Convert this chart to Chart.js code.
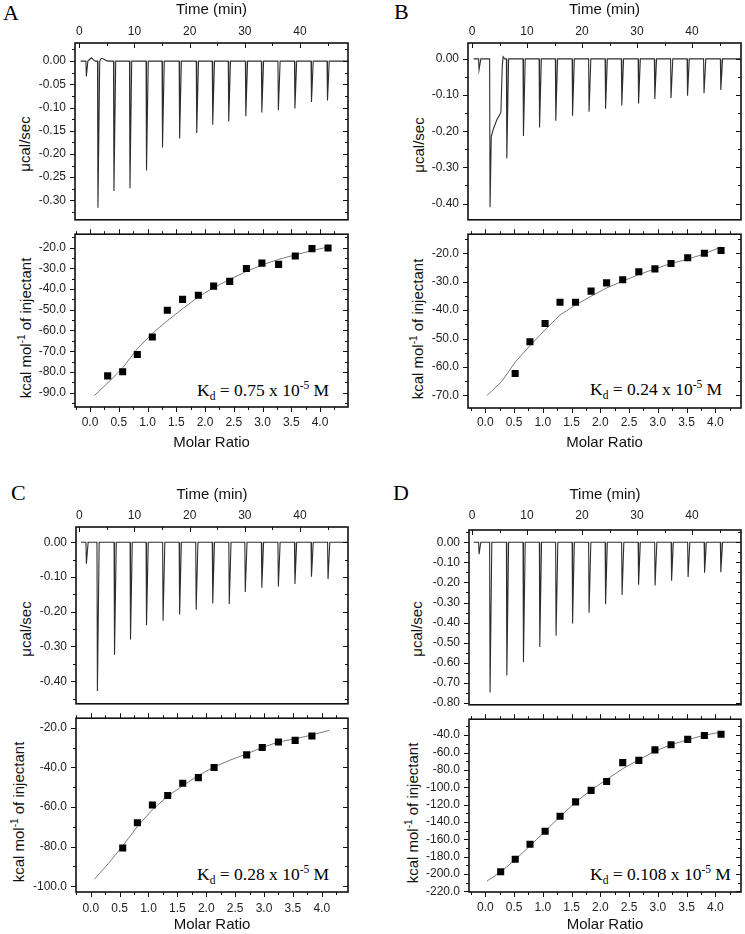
<!DOCTYPE html>
<html><head><meta charset="utf-8">
<script src="https://cdn.jsdelivr.net/npm/chart.js@4.4.1/dist/chart.umd.min.js"></script>
<style>
html,body{margin:0;padding:0;background:#fff;overflow:hidden;}
#page{position:relative;width:745px;height:934px;overflow:hidden;}
canvas{position:absolute;}
.lbl{position:absolute;white-space:nowrap;}
.letter{font-family:"Liberation Serif","Times New Roman",serif;font-size:22px;line-height:22px;color:#000;}
.ytitle{font-family:"Liberation Sans",Arial,sans-serif;font-size:15px;line-height:18px;color:#111;transform:translate(-50%,-50%) rotate(-90deg);}
.ytitle sup{font-size:10px;line-height:0;position:relative;vertical-align:baseline;top:-6px;}
.kd{font-family:"Liberation Serif","Times New Roman",serif;font-size:17.5px;line-height:20px;color:#000;}
.kd sub,.kd sup{font-size:11.5px;line-height:0;position:relative;vertical-align:baseline;}
.kd sub{top:4px;} .kd sup{top:-7px;}
</style></head>
<body><div id="page">
<div class="lbl letter" style="left:3px;top:1.6px">A</div>
<div class="lbl letter" style="left:394px;top:0.6px">B</div>
<div class="lbl letter" style="left:11px;top:481.6px">C</div>
<div class="lbl letter" style="left:393px;top:481.6px">D</div>

<div class="lbl ytitle" style="left:24.5px;top:143.5px">μcal/sec</div>
<div class="lbl ytitle" style="left:25.5px;top:328px">kcal mol<sup>-1</sup> of injectant</div>
<div class="lbl ytitle" style="left:418.5px;top:144.5px">μcal/sec</div>
<div class="lbl ytitle" style="left:418px;top:328.5px">kcal mol<sup>-1</sup> of injectant</div>
<div class="lbl ytitle" style="left:26px;top:628.5px">μcal/sec</div>
<div class="lbl ytitle" style="left:18.5px;top:811.5px">kcal mol<sup>-1</sup> of injectant</div>
<div class="lbl ytitle" style="left:417px;top:629px">μcal/sec</div>
<div class="lbl ytitle" style="left:412.5px;top:812.5px">kcal mol<sup>-1</sup> of injectant</div>

<div class="lbl kd" style="left:197px;top:380px">K<sub>d</sub> = 0.75 x 10<sup>-5</sup> M</div>
<div class="lbl kd" style="left:590px;top:379px">K<sub>d</sub> = 0.24 x 10<sup>-5</sup> M</div>
<div class="lbl kd" style="left:197px;top:864px">K<sub>d</sub> = 0.28 x 10<sup>-5</sup> M</div>
<div class="lbl kd" style="left:590px;top:864px">K<sub>d</sub> = 0.108 x 10<sup>-5</sup> M</div>
</div>
<script>
// ===== DATA =====
// Raw thermograms: injection times (min) and peak heat rates (µcal/sec)
const injTimeA = [1.2, 3.3, 6.2, 9.1, 12.1, 15.0, 18.1, 21.2, 24.1, 27.0, 30.1, 33.0, 36.0, 39.0, 42.0, 44.9];
const peakA    = [-0.033, -0.316, -0.280, -0.274, -0.236, -0.186, -0.167, -0.155, -0.137, -0.130, -0.119, -0.111, -0.106, -0.102, -0.088, -0.085];
const injTimeB = [1.2, 3.2, 6.25, 9.27, 12.2, 15.15, 18.2, 21.2, 24.2, 27.15, 30.2, 33.15, 36.1, 39.1, 42.1, 45.15];
const peakB    = [-0.030, -0.410, -0.275, -0.213, -0.190, -0.171, -0.157, -0.146, -0.138, -0.129, -0.123, -0.111, -0.108, -0.102, -0.095, -0.086];
const injTimeC = [1.2, 3.2, 6.3, 9.2, 12.1, 15.1, 18.1, 21.1, 24.1, 27.1, 30.0, 33.0, 36.0, 39.0, 42.0, 45.0];
const peakC    = [-0.062, -0.428, -0.324, -0.280, -0.239, -0.226, -0.208, -0.194, -0.176, -0.178, -0.143, -0.131, -0.127, -0.120, -0.099, -0.106];
const injTimeD = [1.2, 3.2, 6.25, 9.27, 12.24, 15.2, 18.2, 21.2, 24.2, 27.2, 30.2, 33.2, 36.2, 39.2, 42.2, 45.15];
const peakD    = [-0.059, -0.748, -0.663, -0.596, -0.521, -0.465, -0.404, -0.351, -0.308, -0.263, -0.212, -0.215, -0.192, -0.173, -0.152, -0.149];
// trace start / end times (min)
const traceStart = [0.25, 0.3, 0.3, 0.3];
const traceEnd   = [48.7, 48.9, 48.7, 48.9];
// extra trace features: [time, µcal/sec] after a given injection
const tailA0 = [[1.55, 0], [1.9, 0.004], [2.2, 0.007], [2.6, 0.002], [2.9, 0]];
const tailA1 = [[3.7, 0], [4.0, 0.006], [4.5, 0.004], [4.9, 0.001], [5.4, 0]];
const tailB1 = [[3.5, -0.215], [3.9, -0.193], [4.5, -0.169], [5.0, -0.155], [5.25, -0.148], [5.5, -0.02], [5.65, 0.006], [5.95, 0]];

// Integrated heats: molar ratio vs kcal/mol of injectant
const molarA = [0.307, 0.568, 0.823, 1.084, 1.345, 1.61, 1.884, 2.15, 2.43, 2.72, 2.99, 3.28, 3.57, 3.86, 4.14];
const heatA  = [-81.9, -79.9, -71.6, -63.1, -50.2, -45.0, -43.0, -38.6, -36.3, -30.1, -27.5, -28.1, -24.1, -20.5, -20.2];
const fitXA  = [0.075, 0.35, 0.568, 0.823, 1.084, 1.345, 1.61, 1.884, 2.15, 2.43, 2.72, 2.99, 3.28, 3.57, 3.86, 4.14];
const fitYA  = [-91.4, -84.2, -78.0, -68.8, -61.4, -55.3, -49.5, -43.8, -39.3, -35.4, -31.5, -28.4, -25.7, -23.5, -21.5, -19.7];

const molarB = [0.52, 0.777, 1.04, 1.30, 1.57, 1.84, 2.11, 2.39, 2.67, 2.95, 3.23, 3.52, 3.81, 4.10];
const heatB  = [-62.3, -51.1, -44.7, -37.2, -37.2, -33.3, -30.4, -29.3, -26.5, -25.5, -23.6, -21.6, -20.0, -19.0];
const fitXB  = [0.03, 0.28, 0.52, 0.777, 1.04, 1.30, 1.57, 1.84, 2.11, 2.39, 2.67, 2.95, 3.23, 3.52, 3.81, 4.10];
const fitYB  = [-70.0, -65.2, -58.3, -52.5, -46.9, -41.7, -38.2, -35.1, -32.2, -29.8, -27.5, -25.5, -23.6, -22.1, -20.2, -17.8];

const molarC = [0.554, 0.808, 1.068, 1.333, 1.593, 1.864, 2.136, 2.70, 2.97, 3.25, 3.54, 3.83];
const heatC  = [-80.7, -68.0, -59.0, -54.2, -48.0, -45.2, -40.1, -33.7, -30.0, -27.2, -26.4, -24.2];
const fitXC  = [0.063, 0.306, 0.554, 0.808, 1.068, 1.333, 1.593, 1.864, 2.136, 2.41, 2.70, 2.97, 3.25, 3.54, 3.83, 4.13];
const fitYC  = [-96.5, -88.5, -79.7, -69.8, -61.4, -54.5, -49.3, -44.1, -39.8, -36.4, -33.2, -30.0, -27.2, -25.6, -23.7, -21.3];

const molarD = [0.267, 0.52, 0.777, 1.04, 1.30, 1.57, 1.84, 2.11, 2.39, 2.67, 2.95, 3.23, 3.52, 3.81, 4.10];
const heatD  = [-197.2, -182.9, -165.6, -150.6, -133.3, -116.8, -103.6, -93.3, -71.6, -69.0, -56.9, -51.0, -44.8, -40.4, -38.9];
const fitXD  = [0.03, 0.267, 0.52, 0.777, 1.04, 1.30, 1.57, 1.84, 2.11, 2.39, 2.67, 2.95, 3.23, 3.52, 3.81, 4.10];
const fitYD  = [-207.9, -197.6, -183.3, -167.5, -150.6, -133.7, -117.2, -103.2, -91.1, -78.6, -68.3, -58.4, -51.0, -45.2, -40.0, -36.5];

// Axis tick steps
const timeStep = 10;
const ratioStep = 0.5;
const rateStepA = 0.05, rateStepB = 0.1, rateStepC = 0.1, rateStepD = 0.1;
const heatStepA = 10, heatStepB = 10, heatStepC = 20, heatStepD = 20;

// ===== RENDERING =====
const FONT = '"Liberation Sans", Arial, Helvetica, sans-serif';
Chart.defaults.font.family = FONT;
Chart.defaults.color = '#222';
const page = document.getElementById('page');

const frameTicks = {
  id: 'frameTicks',
  afterDraw(chart, args, o) {
    const ctx = chart.ctx, a = chart.chartArea;
    const xs = chart.scales.x, ys = chart.scales.y;
    ctx.save();
    ctx.strokeStyle = '#111';
    ctx.lineWidth = 1.6;
    ctx.strokeRect(a.left, a.top, a.right - a.left, a.bottom - a.top);
    ctx.lineWidth = 1;
    const draw = (scale, side, dir) => {
      if (!dir) return;
      const t = scale.ticks.map(k => k.value);
      if (t.length < 2) return;
      const half = (t[1] - t[0]) / 2, base = t[0];
      const kmin = Math.ceil((scale.min - base) / half - 1e-6);
      const kmax = Math.floor((scale.max - base) / half + 1e-6);
      const s = dir === 'out' ? 1 : -1;
      for (let k = kmin; k <= kmax; k++) {
        const len = (k % 2 === 0) ? o.major : o.minor;
        const p = Math.round(scale.getPixelForValue(base + k * half)) + 0.5;
        ctx.beginPath();
        if (side === 'left') { ctx.moveTo(a.left, p); ctx.lineTo(a.left - s * len, p); }
        else if (side === 'right') { ctx.moveTo(a.right, p); ctx.lineTo(a.right + s * len, p); }
        else if (side === 'top') { ctx.moveTo(p, a.top); ctx.lineTo(p, a.top - s * len); }
        else { ctx.moveTo(p, a.bottom); ctx.lineTo(p, a.bottom + s * len); }
        ctx.stroke();
      }
    };
    draw(ys, 'left', o.left); draw(ys, 'right', o.right);
    draw(xs, 'top', o.top); draw(xs, 'bottom', o.bottom);
    ctx.restore();
  }
};

function placeCanvas(f, m) {
  const c = document.createElement('canvas');
  const w = f.r - f.l + m.L + m.R, h = f.b - f.t + m.T + m.B;
  c.width = w; c.height = h;
  c.style.left = (f.l - m.L) + 'px'; c.style.top = (f.t - m.T) + 'px';
  c.style.width = w + 'px'; c.style.height = h + 'px';
  page.appendChild(c);
  return c;
}
const fmt = (v, d) => (Math.abs(v) < 1e-9 ? 0 : v).toFixed(d);
const DROP = 0.08, RETURN = 0.4;

function buildTrace(t0, t1, times, peaks, tails) {
  const pts = [{x: t0, y: 0}];
  times.forEach((t, i) => {
    pts.push({x: t, y: 0});
    pts.push({x: t + DROP, y: peaks[i]});
    const tail = tails[i];
    if (tail) tail.forEach(q => pts.push({x: q[0], y: q[1]}));
    else pts.push({x: t + RETURN, y: 0});
  });
  pts.push({x: t1, y: 0});
  return pts;
}

function thermo(p) {
  const m = {L: 75, R: 10, T: p.T, B: 10};
  const c = placeCanvas(p.f, m);
  new Chart(c, {
    type: 'line',
    data: {datasets: [{data: p.pts, borderColor: '#2e2e2e', borderWidth: 1.1, pointRadius: 0, tension: 0}]},
    options: {
      responsive: false, animation: false, devicePixelRatio: 1,
      layout: {padding: {left: 0, top: 0, right: m.R, bottom: m.B}},
      plugins: {legend: {display: false}, tooltip: {enabled: false},
        frameTicks: {left: 'out', right: 'in', top: 'in', bottom: null, major: 5, minor: 3}},
      scales: {
        x: {type: 'linear', position: 'top', min: p.xmin, max: p.xmax,
          afterFit: s => { s.height = m.T; },
          grid: {display: false, drawTicks: false, tickLength: 0}, border: {display: false},
          ticks: {stepSize: timeStep, padding: p.xpad, font: {size: 12}, color: '#222', includeBounds: false, autoSkip: false, maxRotation: 0,
            callback: v => fmt(v, 0)},
          title: {display: true, text: 'Time (min)', font: {size: 15}, color: '#111', padding: 0}},
        y: {type: 'linear', min: p.ymin, max: p.ymax,
          afterFit: s => { s.width = m.L; },
          grid: {display: false, drawTicks: false, tickLength: 0}, border: {display: false},
          ticks: {stepSize: p.ystep, padding: 9, font: {size: 12}, color: '#222', includeBounds: false, autoSkip: false,
            callback: v => fmt(v, 2)}}
      }
    },
    plugins: [frameTicks]
  });
}

function isotherm(p) {
  const m = {L: 75, R: 10, T: 8, B: p.B};
  const c = placeCanvas(p.f, m);
  const fit = p.fx.map((x, i) => ({x, y: p.fy[i]}));
  const pts = p.mx.map((x, i) => ({x, y: p.hy[i]}));
  new Chart(c, {
    type: 'line',
    data: {datasets: [
      {data: pts, showLine: false, pointStyle: 'rect', pointRadius: 5, backgroundColor: '#000', borderColor: '#000', borderWidth: 0, order: 0},
      {data: fit, borderColor: '#7a7a7a', borderWidth: 1, pointRadius: 0, tension: 0, order: 1}
    ]},
    options: {
      responsive: false, animation: false, devicePixelRatio: 1,
      layout: {padding: {left: 0, top: m.T, right: m.R, bottom: 0}},
      plugins: {legend: {display: false}, tooltip: {enabled: false},
        frameTicks: {left: 'out', right: 'in', top: 'out', bottom: 'out', major: 5, minor: 3}},
      scales: {
        x: {type: 'linear', position: 'bottom', min: p.xmin, max: p.xmax,
          afterFit: s => { s.height = m.B; },
          grid: {display: false, drawTicks: false, tickLength: 0}, border: {display: false},
          ticks: {stepSize: ratioStep, padding: p.xpad, font: {size: 12}, color: '#222', includeBounds: false, autoSkip: false, maxRotation: 0,
            callback: v => fmt(v, 1)},
          title: {display: true, text: 'Molar Ratio', font: {size: 15}, color: '#111', padding: 0}},
        y: {type: 'linear', min: p.ymin, max: p.ymax,
          afterFit: s => { s.width = m.L; },
          grid: {display: false, drawTicks: false, tickLength: 0}, border: {display: false},
          ticks: {stepSize: p.ystep, padding: 9, font: {size: 12}, color: '#222', includeBounds: false, autoSkip: false,
            callback: v => fmt(v, 1)}}
      }
    },
    plugins: [frameTicks]
  });
}

// Panel A
thermo({f: {l: 75, r: 348, t: 43, b: 226}, T: 42, xpad: 4, xmin: -0.78, xmax: 48.7, ymin: -0.342, ymax: 0.039, ystep: rateStepA,
  pts: buildTrace(traceStart[0], traceEnd[0], injTimeA, peakA, {0: tailA0, 1: tailA1})});
isotherm({f: {l: 75, r: 348, t: 226, b: 407}, B: 45, xpad: 8, xmin: -0.261, xmax: 4.487, ymin: -96.9, ymax: -13.55, ystep: heatStepA,
  mx: molarA, hy: heatA, fx: fitXA, fy: fitYA});
// Panel B
thermo({f: {l: 468, r: 741, t: 43, b: 226}, T: 42, xpad: 4, xmin: -0.73, xmax: 48.9, ymin: -0.445, ymax: 0.044, ystep: rateStepB,
  pts: buildTrace(traceStart[1], traceEnd[1], injTimeB, peakB, {1: tailB1})});
isotherm({f: {l: 468, r: 741, t: 226, b: 408}, B: 44, xpad: 7, xmin: -0.30, xmax: 4.447, ymin: -74.4, ymax: -13.3, ystep: heatStepB,
  mx: molarB, hy: heatB, fx: fitXB, fy: fitYB});
// Panel C
thermo({f: {l: 76, r: 348, t: 527, b: 710}, T: 41, xpad: 4.5, xmin: -0.6, xmax: 48.7, ymin: -0.465, ymax: 0.044, ystep: rateStepC,
  pts: buildTrace(traceStart[2], traceEnd[2], injTimeC, peakC, {})});
isotherm({f: {l: 76, r: 348, t: 710, b: 892}, B: 42, xpad: 9, xmin: -0.255, xmax: 4.455, ymin: -102.9, ymax: -15.2, ystep: heatStepC,
  mx: molarC, hy: heatC, fx: fitXC, fy: fitYC});
// Panel D
thermo({f: {l: 469, r: 741, t: 530, b: 711}, T: 44, xpad: 7, xmin: -0.55, xmax: 48.9, ymin: -0.809, ymax: 0.061, ystep: rateStepD,
  pts: buildTrace(traceStart[3], traceEnd[3], injTimeD, peakD, {})});
isotherm({f: {l: 469, r: 741, t: 711, b: 892}, B: 42, xpad: 8, xmin: -0.284, xmax: 4.447, ymin: -220.6, ymax: -21.6, ystep: heatStepD,
  mx: molarD, hy: heatD, fx: fitXD, fy: fitYD});
</script>
</body></html>
